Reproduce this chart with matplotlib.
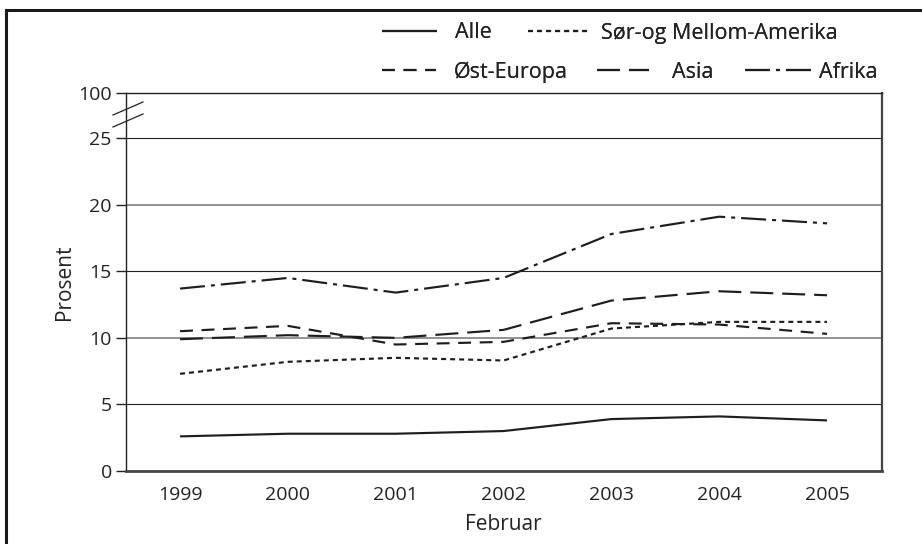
import matplotlib
matplotlib.use("Agg")
import matplotlib.pyplot as plt
from matplotlib.patches import Rectangle
from matplotlib.lines import Line2D

plt.rcParams['font.family'] = ['Open Sans', 'DejaVu Sans']
plt.rcParams['lines.scale_dashes'] = False

years = ["1999", "2000", "2001", "2002", "2003", "2004", "2005"]
alle = [2.6, 2.8, 2.8, 3.0, 3.9, 4.1, 3.8]
sor_mellom_amerika = [7.3, 8.2, 8.5, 8.3, 10.7, 11.2, 11.2]
ost_europa = [10.5, 10.9, 9.5, 9.7, 11.1, 11.0, 10.3]
asia = [9.9, 10.2, 10.0, 10.6, 12.8, 13.5, 13.2]
afrika = [13.7, 14.5, 13.4, 14.5, 17.8, 19.1, 18.6]
ytick_values = [0, 5, 10, 15, 20, 25]
ytick_labels = ["0", "5", "10", "15", "20", "25"]
top_label = "100"

TXT = "#222222"
LC = "#1e1e1e"
LW = 1.55

fig = plt.figure(figsize=(9.22, 5.44), dpi=100)
ax = fig.add_axes([125.7 / 922, 1 - 471 / 544, (881.7 - 125.7) / 922, (471 - 93) / 544])

x = list(range(len(years)))
ymax = 28.39

# grid lines
for v, c, w in [(5, "#222222", 0.8), (10, "#8a8a8a", 1.3), (15, "#222222", 0.8),
                (20, "#8a8a8a", 1.3), (25, "#222222", 0.8)]:
    ax.axhline(v, color=c, lw=w, zorder=1)

series = [
    ("Alle", alle, "-"),
    ("Sør-og Mellom-Amerika", sor_mellom_amerika, (0, (3.6, 2.9))),
    ("Øst-Europa", ost_europa, (0, (9.3, 6.2))),
    ("Asia", asia, (0, (16.5, 6.5))),
    ("Afrika", afrika, (0, (18.0, 4.3, 2.9, 4.3))),
]
handles = {}
for name, vals, ls in series:
    ln, = ax.plot(x, vals, color=LC, lw=LW, linestyle=ls, zorder=3,
                  solid_capstyle='butt', dash_capstyle='butt', label=name)
    handles[name] = ln

ax.set_xlim(-0.504, 6.507)
ax.set_ylim(0, ymax)
ax.set_xticks(x)
ax.set_xticklabels(years)
ax.set_yticks(ytick_values + [ymax])
ax.set_yticklabels(ytick_labels + [top_label])
ax.tick_params(axis='x', length=0, pad=11, labelsize=14, labelcolor=TXT)
ax.tick_params(axis='y', length=7, width=1, pad=3, labelsize=14, labelcolor=TXT, color="#222222")

ax.spines['left'].set_color("#222222")
ax.spines['left'].set_linewidth(1.0)
ax.spines['top'].set_color("#222222")
ax.spines['top'].set_linewidth(1.0)
ax.spines['bottom'].set_color("#444444")
ax.spines['bottom'].set_linewidth(2.0)
ax.spines['right'].set_color("#444444")
ax.spines['right'].set_linewidth(1.6)

ax.set_xlabel("Februar", fontsize=15, color=TXT, labelpad=7)
ax.set_ylabel("Prosent", fontsize=15, color=TXT, labelpad=2)

# axis break marks
for (x0, y0, x1, y1) in [(113, 115, 143, 102), (113, 127, 143, 114)]:
    fig.add_artist(Line2D([x0 / 922, x1 / 922], [1 - y0 / 544, 1 - y1 / 544],
                          color="#222222", lw=0.9))

# legend entries, placed individually: (name, handle x, row y, handle length px, text gap px)
entries = [
    ("Alle", 382, 33, 55, 18),
    ("Sør-og Mellom-Amerika", 528, 33, 59, 14),
    ("Øst-Europa", 382, 72, 54, 18),
    ("Asia", 597, 72, 52, 23),
    ("Afrika", 745, 72, 67, 7),
]
fs = 15.5
for name, hx, hy, hlen, gap in entries:
    em = fs / 0.72
    leg = fig.legend([handles[name]], [name], loc='center left',
                     bbox_to_anchor=(hx / 922, 1 - hy / 544),
                     frameon=False, fontsize=fs, handlelength=hlen / em,
                     handletextpad=gap / em, borderpad=0, borderaxespad=0,
                     labelcolor=TXT)
    fig.add_artist(leg)

# outer frame (cropped scan)
fig.add_artist(Rectangle((6 / 922, -0.2), 2.0, 1.2 - 10 / 544, transform=fig.transFigure,
                         fill=False, edgecolor="#1a1a1a", lw=2.2))

fig.savefig("out.png", dpi=100)
